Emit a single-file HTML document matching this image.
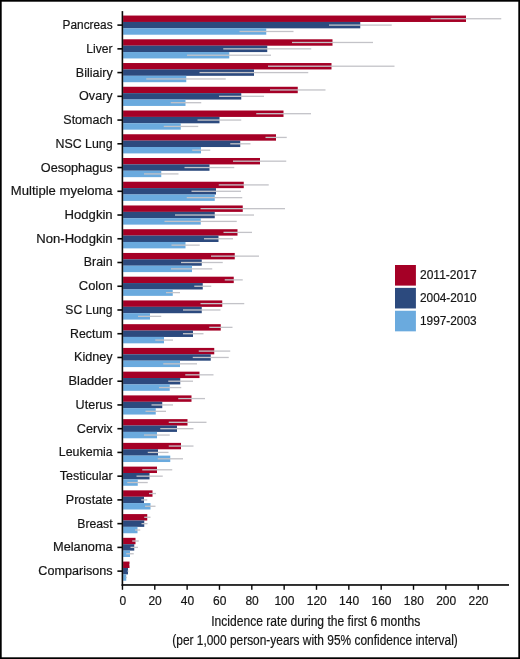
<!DOCTYPE html>
<html><head><meta charset="utf-8"><title>Chart</title>
<style>
html,body{margin:0;padding:0;background:#fff;}
body{width:520px;height:659px;overflow:hidden;font-family:"Liberation Sans",sans-serif;}
svg{display:block;will-change:transform;}
text{font-family:"Liberation Sans",sans-serif;fill:#151515;stroke:#151515;stroke-width:0.2px;}
</style></head><body>
<svg width="520" height="659" viewBox="0 0 520 659">
<rect x="0.85" y="0.85" width="518.3" height="657.3" fill="none" stroke="#000" stroke-width="1.7"/>

<rect x="123.1" y="15.550" width="342.90" height="6.42" fill="#a50026"/>
<rect x="123.1" y="21.920" width="237.15" height="6.42" fill="#2c4a7e"/>
<rect x="123.1" y="28.290" width="143.15" height="6.42" fill="#6aaade"/>
<rect x="430.75" y="18.085" width="70.50" height="1.3" fill="#c3c3c8"/>
<rect x="329" y="24.455" width="62.75" height="1.3" fill="#c3c3c8"/>
<rect x="239.5" y="30.825" width="54.00" height="1.3" fill="#c3c3c8"/>
<rect x="123.1" y="39.290" width="209.40" height="6.42" fill="#a50026"/>
<rect x="123.1" y="45.660" width="144.15" height="6.42" fill="#2c4a7e"/>
<rect x="123.1" y="52.030" width="106.15" height="6.42" fill="#6aaade"/>
<rect x="292" y="41.825" width="81.00" height="1.3" fill="#c3c3c8"/>
<rect x="223.25" y="48.195" width="88.00" height="1.3" fill="#c3c3c8"/>
<rect x="187" y="54.565" width="84.00" height="1.3" fill="#c3c3c8"/>
<rect x="123.1" y="63.030" width="208.40" height="6.42" fill="#a50026"/>
<rect x="123.1" y="69.400" width="130.90" height="6.42" fill="#2c4a7e"/>
<rect x="123.1" y="75.770" width="63.15" height="6.42" fill="#6aaade"/>
<rect x="268" y="65.565" width="126.50" height="1.3" fill="#c3c3c8"/>
<rect x="199.5" y="71.935" width="108.75" height="1.3" fill="#c3c3c8"/>
<rect x="146.25" y="78.305" width="79.50" height="1.3" fill="#c3c3c8"/>
<rect x="123.1" y="86.770" width="174.65" height="6.42" fill="#a50026"/>
<rect x="123.1" y="93.140" width="118.15" height="6.42" fill="#2c4a7e"/>
<rect x="123.1" y="99.510" width="62.40" height="6.42" fill="#6aaade"/>
<rect x="270" y="89.305" width="55.50" height="1.3" fill="#c3c3c8"/>
<rect x="219" y="95.675" width="45.00" height="1.3" fill="#c3c3c8"/>
<rect x="170.75" y="102.045" width="30.50" height="1.3" fill="#c3c3c8"/>
<rect x="123.1" y="110.510" width="160.40" height="6.42" fill="#a50026"/>
<rect x="123.1" y="116.880" width="96.40" height="6.42" fill="#2c4a7e"/>
<rect x="123.1" y="123.250" width="57.65" height="6.42" fill="#6aaade"/>
<rect x="256.25" y="113.045" width="54.75" height="1.3" fill="#c3c3c8"/>
<rect x="197.5" y="119.415" width="43.75" height="1.3" fill="#c3c3c8"/>
<rect x="163.75" y="125.785" width="34.50" height="1.3" fill="#c3c3c8"/>
<rect x="123.1" y="134.250" width="152.90" height="6.42" fill="#a50026"/>
<rect x="123.1" y="140.620" width="117.15" height="6.42" fill="#2c4a7e"/>
<rect x="123.1" y="146.990" width="77.90" height="6.42" fill="#6aaade"/>
<rect x="265.5" y="136.785" width="21.25" height="1.3" fill="#c3c3c8"/>
<rect x="230.25" y="143.155" width="20.25" height="1.3" fill="#c3c3c8"/>
<rect x="192.25" y="149.525" width="18.00" height="1.3" fill="#c3c3c8"/>
<rect x="123.1" y="157.990" width="136.90" height="6.42" fill="#a50026"/>
<rect x="123.1" y="164.360" width="86.40" height="6.42" fill="#2c4a7e"/>
<rect x="123.1" y="170.730" width="38.15" height="6.42" fill="#6aaade"/>
<rect x="233" y="160.525" width="53.25" height="1.3" fill="#c3c3c8"/>
<rect x="184.5" y="166.895" width="49.75" height="1.3" fill="#c3c3c8"/>
<rect x="144" y="173.265" width="34.50" height="1.3" fill="#c3c3c8"/>
<rect x="123.1" y="181.730" width="120.65" height="6.42" fill="#a50026"/>
<rect x="123.1" y="188.100" width="92.90" height="6.42" fill="#2c4a7e"/>
<rect x="123.1" y="194.470" width="91.65" height="6.42" fill="#6aaade"/>
<rect x="218.75" y="184.265" width="50.00" height="1.3" fill="#c3c3c8"/>
<rect x="191.5" y="190.635" width="49.50" height="1.3" fill="#c3c3c8"/>
<rect x="186.75" y="197.005" width="55.50" height="1.3" fill="#c3c3c8"/>
<rect x="123.1" y="205.470" width="119.65" height="6.42" fill="#a50026"/>
<rect x="123.1" y="211.840" width="91.65" height="6.42" fill="#2c4a7e"/>
<rect x="123.1" y="218.210" width="77.65" height="6.42" fill="#6aaade"/>
<rect x="200.5" y="208.005" width="84.50" height="1.3" fill="#c3c3c8"/>
<rect x="175" y="214.375" width="79.00" height="1.3" fill="#c3c3c8"/>
<rect x="164.5" y="220.745" width="72.25" height="1.3" fill="#c3c3c8"/>
<rect x="123.1" y="229.210" width="114.40" height="6.42" fill="#a50026"/>
<rect x="123.1" y="235.580" width="95.40" height="6.42" fill="#2c4a7e"/>
<rect x="123.1" y="241.950" width="62.40" height="6.42" fill="#6aaade"/>
<rect x="223.5" y="231.745" width="28.50" height="1.3" fill="#c3c3c8"/>
<rect x="204" y="238.115" width="29.00" height="1.3" fill="#c3c3c8"/>
<rect x="171.5" y="244.485" width="28.25" height="1.3" fill="#c3c3c8"/>
<rect x="123.1" y="252.950" width="111.65" height="6.42" fill="#a50026"/>
<rect x="123.1" y="259.320" width="78.65" height="6.42" fill="#2c4a7e"/>
<rect x="123.1" y="265.690" width="68.90" height="6.42" fill="#6aaade"/>
<rect x="211" y="255.485" width="48.00" height="1.3" fill="#c3c3c8"/>
<rect x="181" y="261.855" width="41.75" height="1.3" fill="#c3c3c8"/>
<rect x="171" y="268.225" width="41.25" height="1.3" fill="#c3c3c8"/>
<rect x="123.1" y="276.690" width="110.65" height="6.42" fill="#a50026"/>
<rect x="123.1" y="283.060" width="79.65" height="6.42" fill="#2c4a7e"/>
<rect x="123.1" y="289.430" width="49.65" height="6.42" fill="#6aaade"/>
<rect x="224.75" y="279.225" width="18.00" height="1.3" fill="#c3c3c8"/>
<rect x="194.25" y="285.595" width="17.00" height="1.3" fill="#c3c3c8"/>
<rect x="166" y="291.965" width="14.00" height="1.3" fill="#c3c3c8"/>
<rect x="123.1" y="300.430" width="99.15" height="6.42" fill="#a50026"/>
<rect x="123.1" y="306.800" width="78.65" height="6.42" fill="#2c4a7e"/>
<rect x="123.1" y="313.170" width="26.90" height="6.42" fill="#6aaade"/>
<rect x="200.5" y="302.965" width="43.75" height="1.3" fill="#c3c3c8"/>
<rect x="183" y="309.335" width="37.50" height="1.3" fill="#c3c3c8"/>
<rect x="138" y="315.705" width="23.25" height="1.3" fill="#c3c3c8"/>
<rect x="123.1" y="324.170" width="97.65" height="6.42" fill="#a50026"/>
<rect x="123.1" y="330.540" width="69.90" height="6.42" fill="#2c4a7e"/>
<rect x="123.1" y="336.910" width="40.90" height="6.42" fill="#6aaade"/>
<rect x="209.25" y="326.705" width="23.25" height="1.3" fill="#c3c3c8"/>
<rect x="183" y="333.075" width="20.50" height="1.3" fill="#c3c3c8"/>
<rect x="155.25" y="339.445" width="17.75" height="1.3" fill="#c3c3c8"/>
<rect x="123.1" y="347.910" width="91.15" height="6.42" fill="#a50026"/>
<rect x="123.1" y="354.280" width="87.65" height="6.42" fill="#2c4a7e"/>
<rect x="123.1" y="360.650" width="56.90" height="6.42" fill="#6aaade"/>
<rect x="198.75" y="350.445" width="31.50" height="1.3" fill="#c3c3c8"/>
<rect x="192.75" y="356.815" width="36.00" height="1.3" fill="#c3c3c8"/>
<rect x="163.25" y="363.185" width="33.75" height="1.3" fill="#c3c3c8"/>
<rect x="123.1" y="371.650" width="76.40" height="6.42" fill="#a50026"/>
<rect x="123.1" y="378.020" width="57.15" height="6.42" fill="#2c4a7e"/>
<rect x="123.1" y="384.390" width="46.65" height="6.42" fill="#6aaade"/>
<rect x="185.25" y="374.185" width="28.25" height="1.3" fill="#c3c3c8"/>
<rect x="168.25" y="380.555" width="24.75" height="1.3" fill="#c3c3c8"/>
<rect x="159" y="386.925" width="22.25" height="1.3" fill="#c3c3c8"/>
<rect x="123.1" y="395.390" width="68.40" height="6.42" fill="#a50026"/>
<rect x="123.1" y="401.760" width="39.15" height="6.42" fill="#2c4a7e"/>
<rect x="123.1" y="408.130" width="32.65" height="6.42" fill="#6aaade"/>
<rect x="178.25" y="397.925" width="26.75" height="1.3" fill="#c3c3c8"/>
<rect x="151.5" y="404.295" width="21.50" height="1.3" fill="#c3c3c8"/>
<rect x="145.5" y="410.665" width="20.50" height="1.3" fill="#c3c3c8"/>
<rect x="123.1" y="419.130" width="64.40" height="6.42" fill="#a50026"/>
<rect x="123.1" y="425.500" width="53.90" height="6.42" fill="#2c4a7e"/>
<rect x="123.1" y="431.870" width="33.90" height="6.42" fill="#6aaade"/>
<rect x="168.75" y="421.665" width="37.75" height="1.3" fill="#c3c3c8"/>
<rect x="160.25" y="428.035" width="33.25" height="1.3" fill="#c3c3c8"/>
<rect x="144" y="434.405" width="25.75" height="1.3" fill="#c3c3c8"/>
<rect x="123.1" y="442.870" width="57.90" height="6.42" fill="#a50026"/>
<rect x="123.1" y="449.240" width="34.90" height="6.42" fill="#2c4a7e"/>
<rect x="123.1" y="455.610" width="47.15" height="6.42" fill="#6aaade"/>
<rect x="168.75" y="445.405" width="24.75" height="1.3" fill="#c3c3c8"/>
<rect x="147.75" y="451.775" width="20.75" height="1.3" fill="#c3c3c8"/>
<rect x="157.75" y="458.145" width="25.25" height="1.3" fill="#c3c3c8"/>
<rect x="123.1" y="466.610" width="33.90" height="6.42" fill="#a50026"/>
<rect x="123.1" y="472.980" width="26.40" height="6.42" fill="#2c4a7e"/>
<rect x="123.1" y="479.350" width="14.65" height="6.42" fill="#6aaade"/>
<rect x="142.25" y="469.145" width="30.00" height="1.3" fill="#c3c3c8"/>
<rect x="136.5" y="475.515" width="26.25" height="1.3" fill="#c3c3c8"/>
<rect x="127.25" y="481.885" width="20.50" height="1.3" fill="#c3c3c8"/>
<rect x="123.1" y="490.350" width="29.40" height="6.42" fill="#a50026"/>
<rect x="123.1" y="496.720" width="20.90" height="6.42" fill="#2c4a7e"/>
<rect x="123.1" y="503.090" width="27.40" height="6.42" fill="#6aaade"/>
<rect x="149" y="492.885" width="7.00" height="1.3" fill="#c3c3c8"/>
<rect x="141.25" y="499.255" width="6.00" height="1.3" fill="#c3c3c8"/>
<rect x="145" y="505.625" width="10.50" height="1.3" fill="#c3c3c8"/>
<rect x="123.1" y="514.090" width="24.15" height="6.42" fill="#a50026"/>
<rect x="123.1" y="520.460" width="21.15" height="6.42" fill="#2c4a7e"/>
<rect x="123.1" y="526.830" width="14.40" height="6.42" fill="#6aaade"/>
<rect x="144.25" y="516.625" width="6.25" height="1.3" fill="#c3c3c8"/>
<rect x="141.5" y="522.995" width="6.00" height="1.3" fill="#c3c3c8"/>
<rect x="135" y="529.365" width="5.25" height="1.3" fill="#c3c3c8"/>
<rect x="123.1" y="537.830" width="12.40" height="6.42" fill="#a50026"/>
<rect x="123.1" y="544.200" width="11.15" height="6.42" fill="#2c4a7e"/>
<rect x="123.1" y="550.570" width="6.90" height="6.42" fill="#6aaade"/>
<rect x="132.25" y="540.365" width="6.50" height="1.3" fill="#c3c3c8"/>
<rect x="130.5" y="546.735" width="7.50" height="1.3" fill="#c3c3c8"/>
<rect x="126.25" y="553.105" width="7.50" height="1.3" fill="#c3c3c8"/>
<rect x="123.1" y="561.570" width="6.40" height="6.42" fill="#a50026"/>
<rect x="123.1" y="567.940" width="4.90" height="6.42" fill="#2c4a7e"/>
<rect x="123.1" y="574.310" width="3.15" height="6.42" fill="#6aaade"/>
<rect x="129" y="564.105" width="1.00" height="1.3" fill="#c3c3c8"/>
<rect x="127.5" y="570.475" width="1.00" height="1.3" fill="#c3c3c8"/>
<rect x="125.75" y="576.845" width="1.00" height="1.3" fill="#c3c3c8"/>
<rect x="121.6" y="11.1" width="1.6" height="574.7" fill="#0a0a0a"/>
<rect x="121.6" y="584.15" width="387.4" height="1.65" fill="#0a0a0a"/>
<rect x="117.4" y="24.305" width="5" height="1.6" fill="#0a0a0a"/>
<text x="112.65" y="29.05" font-size="12.5" text-anchor="end" textLength="50.10" lengthAdjust="spacingAndGlyphs">Pancreas</text>
<rect x="117.4" y="48.045" width="5" height="1.6" fill="#0a0a0a"/>
<text x="112.65" y="52.80" font-size="12.5" text-anchor="end" textLength="26.35" lengthAdjust="spacingAndGlyphs">Liver</text>
<rect x="117.4" y="71.785" width="5" height="1.6" fill="#0a0a0a"/>
<text x="112.65" y="76.54" font-size="12.5" text-anchor="end" textLength="36.85" lengthAdjust="spacingAndGlyphs">Biliairy</text>
<rect x="117.4" y="95.525" width="5" height="1.6" fill="#0a0a0a"/>
<text x="112.65" y="100.27" font-size="12.5" text-anchor="end" textLength="33.60" lengthAdjust="spacingAndGlyphs">Ovary</text>
<rect x="117.4" y="119.265" width="5" height="1.6" fill="#0a0a0a"/>
<text x="112.65" y="124.02" font-size="12.5" text-anchor="end" textLength="49.35" lengthAdjust="spacingAndGlyphs">Stomach</text>
<rect x="117.4" y="143.005" width="5" height="1.6" fill="#0a0a0a"/>
<text x="112.65" y="147.75" font-size="12.5" text-anchor="end" textLength="57.10" lengthAdjust="spacingAndGlyphs">NSC Lung</text>
<rect x="117.4" y="166.745" width="5" height="1.6" fill="#0a0a0a"/>
<text x="112.65" y="171.50" font-size="12.5" text-anchor="end" textLength="71.85" lengthAdjust="spacingAndGlyphs">Oesophagus</text>
<rect x="117.4" y="190.485" width="5" height="1.6" fill="#0a0a0a"/>
<text x="112.65" y="195.23" font-size="12.5" text-anchor="end" textLength="101.85" lengthAdjust="spacingAndGlyphs">Multiple myeloma</text>
<rect x="117.4" y="214.225" width="5" height="1.6" fill="#0a0a0a"/>
<text x="112.65" y="218.97" font-size="12.5" text-anchor="end" textLength="48.10" lengthAdjust="spacingAndGlyphs">Hodgkin</text>
<rect x="117.4" y="237.965" width="5" height="1.6" fill="#0a0a0a"/>
<text x="112.65" y="242.72" font-size="12.5" text-anchor="end" textLength="76.35" lengthAdjust="spacingAndGlyphs">Non-Hodgkin</text>
<rect x="117.4" y="261.705" width="5" height="1.6" fill="#0a0a0a"/>
<text x="112.65" y="266.45" font-size="12.5" text-anchor="end" textLength="28.85" lengthAdjust="spacingAndGlyphs">Brain</text>
<rect x="117.4" y="285.445" width="5" height="1.6" fill="#0a0a0a"/>
<text x="112.65" y="290.19" font-size="12.5" text-anchor="end" textLength="33.85" lengthAdjust="spacingAndGlyphs">Colon</text>
<rect x="117.4" y="309.185" width="5" height="1.6" fill="#0a0a0a"/>
<text x="112.65" y="313.94" font-size="12.5" text-anchor="end" textLength="47.35" lengthAdjust="spacingAndGlyphs">SC Lung</text>
<rect x="117.4" y="332.925" width="5" height="1.6" fill="#0a0a0a"/>
<text x="112.65" y="337.68" font-size="12.5" text-anchor="end" textLength="42.60" lengthAdjust="spacingAndGlyphs">Rectum</text>
<rect x="117.4" y="356.665" width="5" height="1.6" fill="#0a0a0a"/>
<text x="112.65" y="361.41" font-size="12.5" text-anchor="end" textLength="38.60" lengthAdjust="spacingAndGlyphs">Kidney</text>
<rect x="117.4" y="380.405" width="5" height="1.6" fill="#0a0a0a"/>
<text x="112.65" y="385.15" font-size="12.5" text-anchor="end" textLength="44.10" lengthAdjust="spacingAndGlyphs">Bladder</text>
<rect x="117.4" y="404.145" width="5" height="1.6" fill="#0a0a0a"/>
<text x="112.65" y="408.89" font-size="12.5" text-anchor="end" textLength="37.10" lengthAdjust="spacingAndGlyphs">Uterus</text>
<rect x="117.4" y="427.885" width="5" height="1.6" fill="#0a0a0a"/>
<text x="112.65" y="432.63" font-size="12.5" text-anchor="end" textLength="35.85" lengthAdjust="spacingAndGlyphs">Cervix</text>
<rect x="117.4" y="451.625" width="5" height="1.6" fill="#0a0a0a"/>
<text x="112.65" y="456.38" font-size="12.5" text-anchor="end" textLength="53.85" lengthAdjust="spacingAndGlyphs">Leukemia</text>
<rect x="117.4" y="475.365" width="5" height="1.6" fill="#0a0a0a"/>
<text x="112.65" y="480.11" font-size="12.5" text-anchor="end" textLength="52.85" lengthAdjust="spacingAndGlyphs">Testicular</text>
<rect x="117.4" y="499.105" width="5" height="1.6" fill="#0a0a0a"/>
<text x="112.65" y="503.85" font-size="12.5" text-anchor="end" textLength="46.85" lengthAdjust="spacingAndGlyphs">Prostate</text>
<rect x="117.4" y="522.845" width="5" height="1.6" fill="#0a0a0a"/>
<text x="112.65" y="527.59" font-size="12.5" text-anchor="end" textLength="35.35" lengthAdjust="spacingAndGlyphs">Breast</text>
<rect x="117.4" y="546.585" width="5" height="1.6" fill="#0a0a0a"/>
<text x="112.65" y="551.33" font-size="12.5" text-anchor="end" textLength="59.60" lengthAdjust="spacingAndGlyphs">Melanoma</text>
<rect x="117.4" y="570.325" width="5" height="1.6" fill="#0a0a0a"/>
<text x="112.65" y="575.07" font-size="12.5" text-anchor="end" textLength="74.35" lengthAdjust="spacingAndGlyphs">Comparisons</text>
<rect x="121.750" y="585" width="1.4" height="4.8" fill="#0a0a0a"/>
<text x="122.75" y="605.1" font-size="12" text-anchor="middle">0</text>
<rect x="154.090" y="585" width="1.4" height="4.8" fill="#0a0a0a"/>
<text x="155.09" y="605.1" font-size="12" text-anchor="middle">20</text>
<rect x="186.430" y="585" width="1.4" height="4.8" fill="#0a0a0a"/>
<text x="187.43" y="605.1" font-size="12" text-anchor="middle">40</text>
<rect x="218.770" y="585" width="1.4" height="4.8" fill="#0a0a0a"/>
<text x="219.77" y="605.1" font-size="12" text-anchor="middle">60</text>
<rect x="251.110" y="585" width="1.4" height="4.8" fill="#0a0a0a"/>
<text x="252.11" y="605.1" font-size="12" text-anchor="middle">80</text>
<rect x="283.450" y="585" width="1.4" height="4.8" fill="#0a0a0a"/>
<text x="284.45" y="605.1" font-size="12" text-anchor="middle">100</text>
<rect x="315.790" y="585" width="1.4" height="4.8" fill="#0a0a0a"/>
<text x="316.79" y="605.1" font-size="12" text-anchor="middle">120</text>
<rect x="348.130" y="585" width="1.4" height="4.8" fill="#0a0a0a"/>
<text x="349.13" y="605.1" font-size="12" text-anchor="middle">140</text>
<rect x="380.470" y="585" width="1.4" height="4.8" fill="#0a0a0a"/>
<text x="381.47" y="605.1" font-size="12" text-anchor="middle">160</text>
<rect x="412.810" y="585" width="1.4" height="4.8" fill="#0a0a0a"/>
<text x="413.81" y="605.1" font-size="12" text-anchor="middle">180</text>
<rect x="445.150" y="585" width="1.4" height="4.8" fill="#0a0a0a"/>
<text x="446.15" y="605.1" font-size="12" text-anchor="middle">200</text>
<rect x="477.490" y="585" width="1.4" height="4.8" fill="#0a0a0a"/>
<text x="478.49" y="605.1" font-size="12" text-anchor="middle">220</text>
<text x="211.2" y="626.25" font-size="14" stroke="#151515" stroke-width="0.25" textLength="209" lengthAdjust="spacingAndGlyphs">Incidence rate during the first 6 months</text>
<text x="172.3" y="644.5" font-size="14" stroke="#151515" stroke-width="0.25" textLength="285.5" lengthAdjust="spacingAndGlyphs">(per 1,000 person-years with 95% confidence interval)</text>
<rect x="395" y="265.0" width="20.9" height="20.6" fill="#a50026"/>
<text x="420" y="279.20" font-size="12" textLength="56.6" lengthAdjust="spacingAndGlyphs">2011-2017</text>
<rect x="395" y="287.87" width="20.9" height="20.6" fill="#2c4a7e"/>
<text x="420" y="302.07" font-size="12" textLength="56.6" lengthAdjust="spacingAndGlyphs">2004-2010</text>
<rect x="395" y="310.74" width="20.9" height="20.6" fill="#6aaade"/>
<text x="420" y="324.94" font-size="12" textLength="56.6" lengthAdjust="spacingAndGlyphs">1997-2003</text>
</svg></body></html>
